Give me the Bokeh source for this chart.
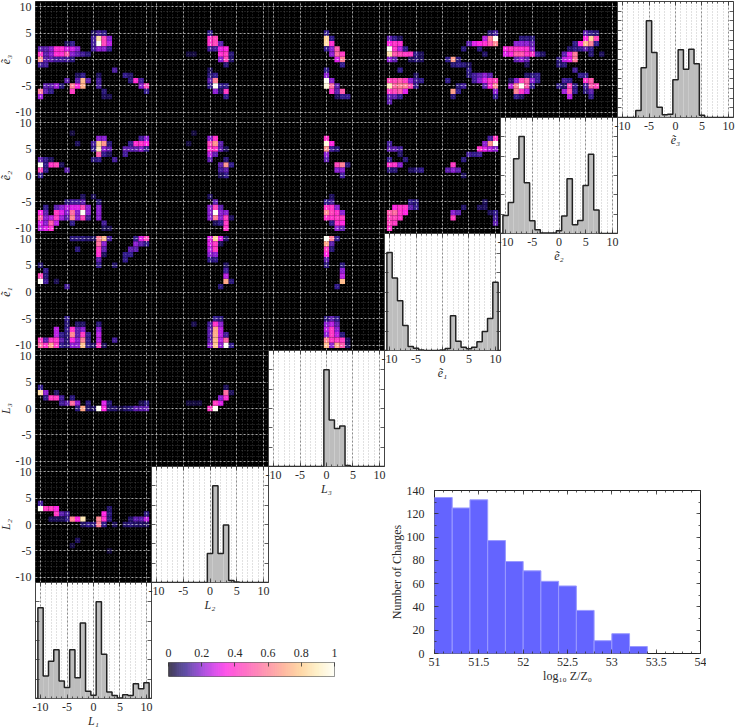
from bokeh.embed import file_html
from bokeh.resources import INLINE
from bokeh.plotting import figure
from bokeh.models import (Range1d, FixedTicker, LinearAxis, Grid, Column, ColumnDataSource,
                          LinearColorMapper)

# ---------- histogram values, bins -10 ... 10 ----------
BINS = list(range(-10, 11))
H_L1 = [4.69, 1.16, 1.93, 2.52, .90, .57, 2.52, 1.07, 3.91, .38, .17, 5.0, 2.29, .34, .16, .02, .19, .16, .76, .50, .81]
H_L2 = [0, 0, 0, 0, 0, 0, 0, 0, 0, 0, 1.5, 5.0, 1.5, 2.97, .1, .03, 0, 0, 0, 0, 0]
H_L3 = [0, 0, 0, 0, 0, 0, 0, 0, 0, 0, 5.0, 2.4, 1.97, 2.09, .05, 0, 0, 0, 0, 0, 0]
H_E1 = [5.02, 3.72, 2.55, 1.28, .21, .12, .02, 0, 0, 0, .03, .1, 1.78, .47, .17, .09, .17, .45, .98, 1.64, 3.5]
H_E2 = [.93, 1.6, 3.86, 5.02, 2.62, .66, .19, .03, .02, .02, .14, .9, 2.83, .45, .67, 2.48, 4.1, 1.22, 0, 0, 0]
H_E3 = [0, 0, 0, .36, 2.57, 5.0, 3.36, .53, .14, .17, 1.95, 3.5, 2.5, 3.53, 2.78, .12, 0, 0, 0, 0, 0]

# ---------- charge histogram ----------
Z_EDGES = [51.0, 51.2, 51.4, 51.6, 51.8, 52.0, 52.2, 52.4, 52.6, 52.8, 53.0, 53.2, 53.4]
Z_COUNTS = [134, 125, 132, 97, 79, 71, 62, 58, 37, 11, 17, 6]

# ---------- 2D cells (x, y, normalised density) ----------
E3_L1 = [(1,3,1.0),(1,4,.85),(2,3,.45),(2,4,.45),(3,3,.25),(3,4,.2),(0,3,.12),(0,4,.12),(0,2,.12),(1,2,.2),(2,2,.2),(3,2,.1),(1,5,.12),(2,5,.1),(0,5,.05),
 (-10,1,.4),(-10,0,.65),(-10,2,.15),(-10,-1,.12),(-9,-1,.12),(-9,0,.15),(-9,1,.15),(-9,2,.15),(-8,0,.15),(-8,1,.2),(-8,2,.2),(-7,1,.38),(-7,2,.38),(-6,1,.38),(-6,2,.38),(-5,1,.5),(-5,2,.3),(-4,2,.28),(-4,1,.2),(-4,3,.1),(-3,2,.2),(-3,1,.15),(-2,1,.12),(-1,1,.08),(-7,0,.12),(-6,0,.12),(-5,0,.12),(-4,0,.08),(-5,3,.05),
 (-10,-6,.6),(-10,-7,.22),(-9,-5,.15),(-9,-6,.15),(-8,-5,.15),(-8,-6,.1),(-7,-5,.22),(-6,-5,.08),(-5,-4,.15),(-4,-5,.6),(-4,-6,.42),(-3,-5,.35),(-2,-4,.75),(-2,-5,.72),(-2,-3,.1),(-3,-4,.15),(-1,-4,.15),(-3,-3,.05),(1,-4,.12),(1,-5,.12),(1,-3,.05),(2,-6,.08),(2,-7,.05),(3,-7,.04),
 (4,-2,.13),(6,-3,.1),(7,-3,.06),(7,-4,.08),(8,-4,.38),(9,-4,.12),(9,-5,.2),(10,-5,.45),(10,-6,.1)]
E3_L2 = [(0,4,.4),(0,3,.4),(1,4,.45),(1,3,.45),(2,3,.15),(0,5,.1),(0,2,.12),(1,2,.12),(2,2,.32),(3,2,.35),(2,1,.38),(3,1,.42),(3,0,.45),(2,0,.2),(3,-1,.08),(4,1,.08),(4,0,.06),
 (0,-3,.08),(0,-2,.05),(0,-4,.15),(1,-4,.6),(1,-5,1.0),(1,-6,.2),(0,-5,.1),(2,-5,.1),(3,-6,.42),(3,-7,.1),(2,-6,.05),(1,-3,.1),(3,-5,.1),(-4,1,.03),(-3,1,.03)]
E3_L3 = [(0,5,.1),(0,4,.82),(0,3,.85),(1,3,.38),(1,4,.1),(0,2,.1),(1,2,.2),(2,2,.5),(2,1,.55),(1,1,.2),(3,1,.42),(3,0,.6),(2,0,.3),(3,-1,.1),
 (0,-2,.1),(0,-3,.2),(0,-4,1.0),(0,-5,.95),(1,-4,.2),(1,-5,.55),(1,-6,.4),(2,-5,.15),(2,-6,.15),(3,-6,.5),(4,-7,.1),(3,-7,.1),(2,-7,.05)]
E3_E1 = [(-10,4,.15),(-10,3,.35),(-10,2,1.0),(-10,1,.85),(-10,0,.2),(-9,3,.4),(-9,2,.4),(-9,1,.5),(-9,0,.15),(-8,3,.38),(-8,2,.25),(-8,1,.45),(-7,1,.42),(-7,2,.1),(-6,1,.42),(-5,1,.1),(-5,0,.08),(-6,0,.05),(-9,4,.1),(-8,4,.05),(-4,0,.05),(-4,1,.05),
 (-10,-4,.45),(-10,-5,.88),(-10,-6,.42),(-10,-7,.15),(-10,-8,.15),(-9,-4,.45),(-9,-5,.55),(-9,-6,.45),(-9,-7,.15),(-8,-4,.5),(-8,-5,.6),(-8,-6,.5),(-8,-7,.1),(-7,-4,.42),(-7,-5,.6),(-7,-6,.3),(-6,-5,.45),(-6,-4,.2),(-5,-5,.1),(-5,-4,.12),(-5,-3,.05),(-4,-4,.1),(-8,-2,.1),
 (2,0,.68),(1,0,.1),(3,0,.08),(2,-1,.08),(3,-1,.1),(4,-1,.08),(5,-2,.1),(5,-1,.05),(1,-4,.1),(2,-6,.68),(3,-6,.1),(3,-5,.08),(4,-5,.12),(2,-7,.08),
 (10,4,1.0),(9,4,.6),(8,4,.25),(10,3,.62),(9,3,.5),(8,3,.38),(7,3,.35),(6,3,.3),(5,3,.15),(4,2,.08),(10,5,.12),(9,5,.08),(7,2,.08),(8,1,.06),
 (5,-3,.08),(6,-3,.12),(7,-3,.15),(8,-3,.2),(9,-3,.15),(6,-4,.12),(7,-4,.2),(8,-4,.3),(9,-4,.42),(10,-4,.45),(8,-5,.15),(9,-5,.38),(10,-5,.62),(10,-6,.2),(10,-7,.1)]
E3_E2 = [(-10,2,.35),(-9,2,.4),(-8,2,.4),(-7,2,.38),(-6,2,.38),(-5,2,.2),(-9,1,.35),(-8,1,.5),(-7,1,.5),(-6,1,.4),(-5,1,.4),(-4,1,.12),(-8,0,.15),(-7,0,.2),(-6,0,.15),(-8,3,.2),(-7,3,.2),(-6,3,.2),(-5,3,.15),(-7,4,.08),(-6,4,.08),(-5,4,.08),(-3,1,.06),(-10,1,.3),(-6,-1,.05),
 (-8,-4,.2),(-7,-4,.45),(-6,-4,.52),(-5,-4,.2),(-4,-3,.1),(-4,-4,.1),(-9,-5,.25),(-8,-5,.6),(-7,-5,1.0),(-6,-5,.5),(-5,-5,.1),(-8,-6,.6),(-7,-6,.4),(-6,-6,.25),(-9,-4,.05),(-8,-7,.1),(-7,-7,.05),(-5,-3,.08),(-6,-3,.06),
 (1,1,.15),(2,1,.32),(3,1,.58),(1,0,.25),(2,0,.3),(3,0,.58),(0,0,.08),(0,-1,.08),(1,-1,.08),(3,2,.1),(2,2,.06),(4,2,.1),(5,2,.15),(6,2,.1),
 (3,-2,.12),(1,-4,.12),(2,-4,.1),(2,-5,.45),(2,-6,.5),(2,-7,.25),(1,-6,.22),(1,-5,.06),(0,-5,.1),(3,-6,.1),(3,-5,.1),
 (6,4,.82),(5,4,.35),(7,4,.45),(5,3,.75),(6,3,.6),(4,3,.35),(7,3,.1),(5,5,.15),(6,5,.1),(7,5,.08),(3,3,.1),(6,1,.08),(8,1,.05),
 (4,-3,.1),(5,-4,.4),(6,-4,.5),(5,-3,.1),(7,-5,.45),(6,-5,.5),(5,-5,.12),(5,-6,.08),(6,-6,.15),(6,-7,.1)]
E2_L1 = [(1,5,.88),(1,6,.8),(1,7,.2),(1,4,.5),(2,6,.65),(2,5,.2),(2,7,.2),(3,5,.15),(3,6,.08),(3,4,.05),(0,3,.08),(0,5,.1),(0,6,.12),(2,4,.1),(1,3,.1),
 (4,3,.12),(6,4,.12),(6,5,.15),(7,5,.15),(8,5,.15),(8,6,.38),(7,6,.1),(9,6,.4),(9,5,.2),(10,6,.35),(10,7,.2),(9,7,.12),(10,5,.1),(-3,6,.05),(-4,8,.03),
 (-10,2,1.0),(-10,3,.15),(-10,1,.45),(-10,0,.1),(-9,1,.1),(-9,3,.1),(-9,2,.1),(-8,3,.05),(-8,2,.4),(-7,2,.45),(-6,2,.05),(-5,1,.15),
 (-10,-7,.35),(-10,-8,.5),(-10,-9,.3),(-10,-10,.25),(-9,-6,.1),(-9,-7,.15),(-9,-8,.2),(-9,-9,.2),(-9,-10,.3),(-8,-8,.25),(-8,-9,.5),(-8,-10,.38),(-7,-6,.15),(-7,-7,.42),(-7,-8,.42),(-7,-9,.25),(-6,-6,.2),(-6,-7,.3),(-6,-8,.22),(-5,-5,.08),(-5,-6,.25),(-5,-7,.2),(-5,-8,.15),(-4,-5,.12),(-4,-6,.3),(-4,-7,.55),(-4,-8,.62),(-4,-9,.1),(-3,-5,.12),(-3,-6,.3),(-3,-7,.2),(-3,-8,.2),(-2,-6,.45),(-2,-7,1.0),(-2,-8,.45),(-2,-5,.15),(-2,-4,.05),(-1,-6,.2),(-1,-7,.2),(-1,-8,.12),(0,-4,.04),(1,-6,.2),(1,-7,.2),(1,-8,.2),(1,-5,.08),(2,-9,.12),(2,-10,.05),(3,-10,.04)]
E2_L2 = [(1,7,.4),(0,7,.2),(0,6,.45),(0,5,.38),(0,4,.25),(0,3,.15),(1,6,.65),(1,5,.4),(1,4,.15),(2,5,.15),(2,6,.15),(3,5,.05),
 (3,2,.65),(2,2,.15),(2,1,.12),(3,1,.15),(4,2,.1),(3,3,.08),(3,0,.1),(2,0,.05),
 (1,-5,.15),(0,-4,.05),(1,-6,.45),(1,-7,1.0),(1,-8,.6),(0,-6,.2),(0,-7,.2),(0,-8,.2),(2,-6,.15),(2,-7,.2),(2,-8,.2),(3,-7,.2),(3,-8,.42),(3,-9,.42),(3,-10,.4),(2,-9,.1),(1,-9,.05),(4,-8,.05),(-4,6,.03),(-3,8,.03)]
E2_L3 = [(0,7,.4),(0,6,.95),(0,5,.65),(0,4,.2),(0,3,.15),(1,6,.35),(1,5,.12),(2,5,.08),
 (2,2,.45),(3,2,.6),(2,1,.2),(3,1,.2),(3,0,.12),(4,2,.08),
 (0,-6,.4),(0,-7,.62),(0,-8,.4),(0,-5,.1),(1,-5,.12),(1,-4,.05),(1,-6,.4),(1,-7,.45),(1,-8,.4),(2,-6,.2),(2,-7,.4),(2,-8,.42),(3,-7,.2),(3,-8,.42),(3,-9,.35),(2,-9,.4),(2,-10,.2),(3,-10,.15),(1,-9,.1)]
E2_E1 = [(-10,5,.15),(-10,6,.12),(-9,5,.15),(-8,5,.12),(-10,2,.4),(-9,2,.4),(-8,2,.2),(-10,3,.1),(-7,3,.08),(-6,1,.05),(-10,1,.08),(-9,1,.08),(-5,1,.08),(-4,1,.1),(-8,4,.06),
 (2,2,.42),(2,1,.2),(1,1,.15),(3,1,.15),(4,0,.05),
 (10,7,.42),(10,6,1.0),(9,6,.65),(8,5,.3),(7,5,.4),(9,5,.25),(10,5,.2),(6,4,.1),(7,4,.12),(5,4,.12),(4,3,.08),(9,7,.12),(8,6,.2),
 (-10,-7,.5),(-10,-8,.45),(-10,-9,.45),(-10,-10,.4),(-9,-7,.55),(-9,-6,.35),(-9,-8,.45),(-9,-9,.42),(-8,-6,.4),(-8,-7,.4),(-8,-8,.4),(-7,-6,.4),(-7,-7,.35),(-6,-6,.15),(-6,-5,.1),(-5,-6,.1),(-5,-5,.08),
 (2,-7,.2),(3,-7,.15),(2,-8,.42),(4,-6,.06),(8,-5,.05),(10,-7,.1),(10,-8,.12),(10,-9,.15),(9,-7,.05),(7,-6,.05),(8,-6,.05)]
E1_L1 = [(1,10,.6),(2,10,.75),(1,9,.55),(1,8,.42),(1,7,.38),(1,6,.15),(2,9,.2),(2,8,.15),(2,7,.05),(1,5,.1),(3,10,.12),(-4,10,.08),(-3,10,.08),(-2,10,.08),(-1,10,.06),(0,10,.05),(-3,8,.08),
 (4,5,.06),(6,7,.1),(6,6,.1),(7,7,.1),(7,8,.15),(8,8,.15),(8,9,.2),(9,9,.15),(8,10,.1),(9,10,.3),(10,10,.45),(10,9,.1),
 (-10,3,.45),(-10,2,1.0),(-9,2,.12),(-9,4,.1),(-9,3,.08),(-5,1,.12),(-10,5,.06),(-7,2,.04),
 (-10,-9,.42),(-10,-10,.55),(-9,-9,.15),(-9,-10,.4),(-8,-9,.4),(-8,-10,.68),(-7,-7,.25),(-7,-8,.25),(-7,-9,.4),(-7,-10,.42),(-6,-9,.15),(-6,-8,.1),(-6,-10,.1),(-5,-5,.1),(-5,-6,.08),(-5,-7,.1),(-5,-8,.08),(-5,-9,.08),(-5,-10,.08),(-4,-7,.4),(-4,-8,.62),(-4,-9,.35),(-4,-10,.2),(-3,-7,.15),(-3,-8,.15),(-3,-9,.2),(-3,-10,.2),(-2,-7,.2),(-2,-8,.42),(-2,-9,.6),(-2,-10,.78),(-1,-8,.1),(-1,-9,.1),(-1,-10,.1),(1,-7,.2),(1,-8,.25),(1,-9,.25),(1,-10,.42),(1,-6,.08),(0,-10,.05),(4,-9,.12),(2,-10,.05),(-3,-6,.06),(-2,-6,.06)]
E1_L2 = [(1,10,.82),(0,10,.3),(0,9,.3),(0,8,.25),(0,7,.2),(1,9,.42),(1,8,.42),(1,7,.2),(2,10,.3),(2,9,.05),(0,6,.1),(1,6,.1),(3,10,.06),
 (3,2,.7),(3,3,.25),(3,4,.12),(2,1,.08),(4,2,.08),(3,5,.05),
 (1,-5,.1),(2,-5,.08),(0,-6,.12),(1,-6,.4),(2,-6,.2),(1,-7,.7),(2,-7,.25),(0,-7,.15),(0,-8,.15),(1,-8,.72),(2,-8,.25),(0,-9,.15),(1,-9,.75),(2,-9,.25),(3,-9,.52),(3,-10,1.0),(2,-10,.2),(1,-10,.78),(0,-10,.2),(4,-10,.1),(3,-8,.12),(-3,-6,.04)]
E1_L3 = [(0,10,1.0),(1,10,.6),(2,10,.1),(0,9,.7),(0,8,.42),(0,7,.35),(0,6,.15),(1,9,.15),(1,8,.08),(0,5,.08),
 (3,2,.75),(3,3,.25),(3,4,.2),(3,5,.08),(2,1,.1),
 (0,-5,.08),(1,-5,.15),(2,-5,.1),(0,-6,.2),(1,-6,.25),(2,-6,.15),(0,-7,.25),(1,-7,.42),(2,-7,.2),(0,-8,.2),(1,-8,.42),(2,-8,.25),(3,-8,.08),(0,-9,.62),(1,-9,.42),(2,-9,.42),(3,-9,.42),(0,-10,.75),(1,-10,.2),(2,-10,.7),(3,-10,.5),(4,-9,.05),(4,-10,.05)]
L3_L1 = [(-10,3,.85),(-10,4,.1),(-9,3,.2),(-9,2,.1),(-8,2,.42),(-7,2,.42),(-7,3,.06),(-6,2,.12),(-6,1,.12),(-5,1,.15),(-4,1,.55),(-4,2,.08),(-3,1,.2),(-3,0,.08),(-2,0,.7),(-1,1,.08),(-1,0,.06),(0,0,.05),(1,0,1.0),(2,1,.3),(2,0,.35),(3,1,.08),(3,0,.06),(4,0,.06),(6,0,.06),(7,0,.08),(8,0,.15),(9,0,.15),(10,0,.15),(10,1,.08),(5,0,.03),(9,1,.04)]
L3_L2 = [(0,0,.42),(1,0,1.0),(1,1,.42),(2,1,.3),(2,2,.2),(3,2,.38),(3,3,.55),(4,3,.05),(3,4,.05),(-4,1,.03),(-3,1,.03),(-2,1,.03)]
L2_L1 = [(-10,3,1.0),(-10,4,.12),(-9,3,.42),(-8,3,.42),(-7,3,.35),(-7,2,.42),(-6,2,.15),(-5,2,.12),(-5,1,.1),(-4,1,.62),(-3,1,.35),(-2,1,.88),(-6,1,.05),(-7,1,.05),(-8,1,.05),
 (1,1,.62),(1,0,.6),(2,2,.35),(2,1,.38),(2,0,.1),(3,3,.06),(3,2,.08),(3,1,.08),(-2,0,.06),(-1,0,.1),(0,0,.08),(4,0,.05),(6,0,.06),(7,1,.06),(7,0,.08),(8,1,.15),(9,1,.15),(10,1,.25),(10,2,.08),(8,0,.06),(9,0,.06),(10,0,.05),
 (-3,-3,.05),(-4,-4,.03),(3,-5,.02)]

# ---------- labels, ticks, colours ----------
NAMES = ["L₁", "L₂", "L₃", "ẽ₁", "ẽ₂", "ẽ₃"]
TICKS = [-10, -5, 0, 5, 10]
TICK_TEXT = {-10: "-10", -5: "-5", 0: "0", 5: "5", 10: "10"}
MINOR = BINS
CB_TICKS = [0, 0.2, 0.4, 0.6, 0.8, 1]
CB_LABELS = {0: "0", 0.2: "0.2", 0.4: "0.4", 0.6: "0.6", 0.8: "0.8", 1: "1"}
Z_TICKS = [51, 51.5, 52, 52.5, 53, 53.5, 54]
Z_MINOR = [51 + i * 0.1 for i in range(31)]
N_TICKS = [0, 20, 40, 60, 80, 100, 120, 140]
N_MINOR = list(range(0, 150, 10))
STOP_POS = [0, .05, .1, .15, .2, .25, .3, .35, .4, .5, .6, .7, .8, .9, 1]
STOP_RGB = [(8,3,26),(28,14,92),(48,24,138),(93,28,174),(138,28,208),(184,30,224),(224,30,232),(255,34,224),
            (255,48,200),(255,85,172),(255,126,150),(255,165,133),(255,204,140),(255,238,188),(255,255,244)]

def interp(t):
    for i in range(len(STOP_POS) - 1):
        if t <= STOP_POS[i + 1]:
            f = (t - STOP_POS[i]) / (STOP_POS[i + 1] - STOP_POS[i])
            a, b = STOP_RGB[i], STOP_RGB[i + 1]
            return "#%02x%02x%02x" % tuple(int(round(a[k] + f * (b[k] - a[k]))) for k in range(3))
    return "#fffff4"

PALETTE = [interp(i / 255) for i in range(256)]
MAPPER = LinearColorMapper(palette=PALETTE, low=0, high=1)

FONT = "Liberation Serif"
FS = "12px"
TXT = "#2a2a2a"
LEFTS = [35, 151, 268, 384, 500, 617, 733]
TOPS = [1, 117, 233, 350, 466, 582, 698]
ML, MR, MT, MB = 60, 6, 30, 40
XR = (-10.95, 10.95)


def frame(left, top, w, h, xr, yr):
    p = figure(width=w + ML + MR, height=h + MT + MB, x_range=Range1d(*xr), y_range=Range1d(*yr),
               min_border_left=ML, min_border_right=MR, min_border_top=MT, min_border_bottom=MB,
               x_axis_location=None, y_axis_location=None, toolbar_location=None, output_backend="svg",
               border_fill_color=None, background_fill_color="white", outline_line_color="#444444",
               styles={"position": "absolute", "left": f"{left - ML}px", "top": f"{top - MT}px"})
    p.grid.visible = False
    return p


def style_axis(ax, label=None, labels=True, ticks=True, tmin=2, tmaj=4):
    ax.axis_line_color = None
    ax.major_tick_out = 0
    ax.minor_tick_out = 0
    ax.major_tick_in = tmaj if ticks else 0
    ax.minor_tick_in = tmin if ticks else 0
    ax.major_tick_line_color = "#333333"
    ax.minor_tick_line_color = "#333333"
    ax.major_tick_line_width = 0.8
    ax.minor_tick_line_width = 0.8
    ax.major_label_text_font = FONT
    ax.major_label_text_font_size = FS
    ax.major_label_text_color = TXT
    ax.major_label_standoff = 4
    if not labels:
        ax.major_label_overrides = {t: "" for t in ax.ticker.ticks}
        ax.major_label_standoff = 0
    if label:
        ax.axis_label = label
        ax.axis_label_text_font = FONT
        ax.axis_label_text_font_size = "12px"
        ax.axis_label_text_font_style = "italic"
        ax.axis_label_text_color = TXT
        ax.axis_label_standoff = 0
    return ax


def grid_pair(p, dim, major_color, minor_color, major_alpha, minor_alpha, level):
    g = Grid(dimension=dim, ticker=FixedTicker(ticks=TICKS, minor_ticks=MINOR), level=level)
    g.grid_line_color = major_color
    g.grid_line_alpha = major_alpha
    g.grid_line_dash = "2 2"
    g.grid_line_width = 1
    g.minor_grid_line_color = minor_color
    g.minor_grid_line_alpha = minor_alpha
    g.minor_grid_line_dash = "1 2"
    g.minor_grid_line_width = 1
    p.add_layout(g)


def heat(cells, row, col):
    left, top = LEFTS[col], TOPS[row]
    p = frame(left, top, LEFTS[col + 1] - left, TOPS[row + 1] - top, XR, XR)
    p.background_fill_color = "#000000"
    p.outline_line_color = "#222222"
    src = ColumnDataSource(dict(x=[c[0] for c in cells], y=[c[1] for c in cells], v=[c[2] for c in cells]))
    p.rect("x", "y", 1, 1, source=src, fill_color={"field": "v", "transform": MAPPER}, line_color=None)
    grid_pair(p, 0, "#ffffff", "#ffffff", 0.6, 0.22, "overlay")
    grid_pair(p, 1, "#ffffff", "#ffffff", 0.6, 0.22, "overlay")
    if col == 0:
        ax = LinearAxis(ticker=FixedTicker(ticks=TICKS))
        style_axis(ax, NAMES[5 - row], ticks=False)
        ax.major_label_overrides = TICK_TEXT
        p.add_layout(ax, "left")
    return p


def hist(vals, idx, yint):
    left, top = LEFTS[idx], TOPS[5 - idx]
    p = frame(left, top, LEFTS[idx + 1] - left, TOPS[6 - idx] - top, XR, (0, 6))
    grid_pair(p, 0, "#777777", "#aaaaaa", 0.8, 0.7, "underlay")
    p.quad(left=[b - 0.5 for b in BINS], right=[b + 0.5 for b in BINS], top=vals, bottom=0,
           fill_color="#bdbdbd", line_color=None)
    p.step(x=[-11] + BINS + [11], y=[0] + vals + [0], mode="center", line_color="#222222", line_width=1.5)
    yt = [i * yint for i in range(int(6 / yint) + 1)]
    xb = LinearAxis(ticker=FixedTicker(ticks=TICKS, minor_ticks=MINOR))
    style_axis(xb, NAMES[idx])
    xb.major_label_overrides = TICK_TEXT
    p.add_layout(xb, "below")
    xa = LinearAxis(ticker=FixedTicker(ticks=TICKS, minor_ticks=MINOR))
    style_axis(xa, labels=False)
    p.add_layout(xa, "above")
    yl = LinearAxis(ticker=FixedTicker(ticks=yt))
    style_axis(yl, labels=False)
    p.add_layout(yl, "left")
    yr = LinearAxis(ticker=FixedTicker(ticks=yt))
    style_axis(yr, labels=False)
    p.add_layout(yr, "right")
    return p


figs = []
PANELS = [(E3_L1, 0, 0), (E3_L2, 0, 1), (E3_L3, 0, 2), (E3_E1, 0, 3), (E3_E2, 0, 4),
          (E2_L1, 1, 0), (E2_L2, 1, 1), (E2_L3, 1, 2), (E2_E1, 1, 3),
          (E1_L1, 2, 0), (E1_L2, 2, 1), (E1_L3, 2, 2),
          (L3_L1, 3, 0), (L3_L2, 3, 1),
          (L2_L1, 4, 0)]
for cells, r, c in PANELS:
    figs.append(heat(cells, r, c))
for i, (vals, yint) in enumerate([(H_L1, 1), (H_L2, 1), (H_L3, 1), (H_E1, 1), (H_E2, 1), (H_E3, 0.5)]):
    figs.append(hist(vals, i, yint))

# colour bar
cb = frame(168, 662, 166, 14, (0, 1), (0, 1))
cb.outline_line_color = "#777777"
n = len(PALETTE)
cb.quad(left=[i / n for i in range(n)], right=[(i + 1) / n for i in range(n)], bottom=0, top=1,
        fill_color=PALETTE, line_color=None)
cb_ax = LinearAxis(ticker=FixedTicker(ticks=CB_TICKS))
style_axis(cb_ax)
cb_ax.major_label_overrides = CB_LABELS
cb_ax.major_label_standoff = 6
cb.add_layout(cb_ax, "above")
figs.append(cb)

# charge histogram
z = frame(434, 490, 266, 163, (51, 54), (0, 140))
z.outline_line_color = "#222222"
z.quad(left=Z_EDGES[:-1], right=Z_EDGES[1:], top=Z_COUNTS, bottom=0, fill_color="#6464ff",
       line_color="#9a9aff", line_width=1)
zb = LinearAxis(ticker=FixedTicker(ticks=Z_TICKS, minor_ticks=Z_MINOR))
style_axis(zb, "log₁₀ Z/Z₀")
zb.axis_label_text_font_style = "normal"
zb.major_label_overrides = {51: "51", 51.5: "51.5", 52: "52", 52.5: "52.5", 53: "53", 53.5: "53.5", 54: "54"}
z.add_layout(zb, "below")
za = LinearAxis(ticker=FixedTicker(ticks=Z_TICKS, minor_ticks=Z_MINOR))
style_axis(za, labels=False)
z.add_layout(za, "above")
zl = LinearAxis(ticker=FixedTicker(ticks=N_TICKS, minor_ticks=N_MINOR))
style_axis(zl, "Number of Charges")
zl.axis_label_text_font_style = "normal"
zl.major_label_standoff = 10
z.add_layout(zl, "left")
zr = LinearAxis(ticker=FixedTicker(ticks=N_TICKS, minor_ticks=N_MINOR))
style_axis(zr, labels=False)
z.add_layout(zr, "right")
figs.append(z)

root = Column(children=figs, width=735, height=727,
              styles={"position": "absolute", "left": "0px", "top": "0px", "overflow": "hidden"})
open("out.html", "w").write(file_html(root, INLINE))
